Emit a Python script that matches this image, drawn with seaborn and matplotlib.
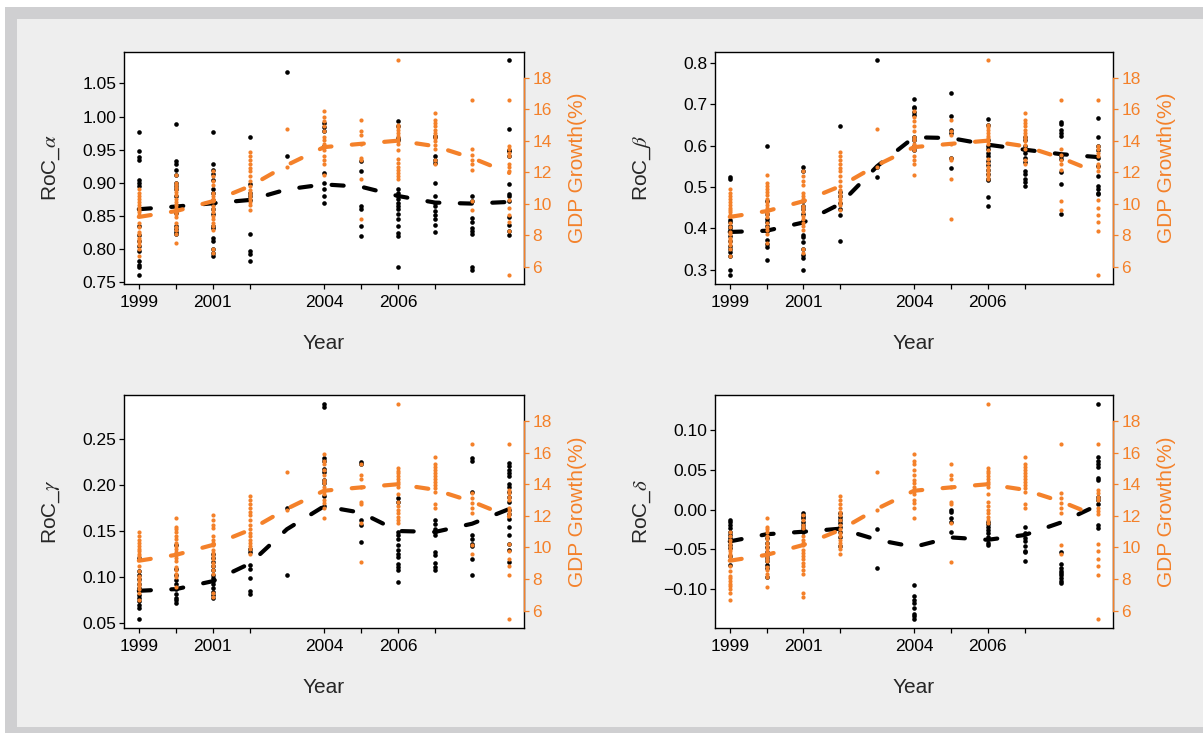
import matplotlib
matplotlib.use("Agg")
import matplotlib.pyplot as plt
from matplotlib.patches import Rectangle
import pandas as pd
import seaborn as sns

# ---------------- data ----------------
years = [1999, 2000, 2001, 2002, 2003, 2004, 2005, 2006, 2007, 2008, 2009]
x_tick_years = [1999, 2000, 2001, 2002, 2004, 2005, 2006, 2007]
x_tick_labels = ["1999", "", "2001", "", "2004", "", "2006", ""]

gdp_growth = {
    1999: [10.96, 10.7, 10.5, 10.3, 10.1, 9.9, 9.75, 9.6, 9.45, 9.3, 8.8, 8.5, 8.2, 8.05, 7.85, 7.7, 7.55, 7.4, 7.1, 6.65],
    2000: [11.85, 11.3, 11.15, 10.95, 10.75, 10.55, 10.3, 10.1, 9.9, 9.7, 9.5, 9.35, 9.15, 8.75, 8.55, 8.35, 8.1, 7.5],
    2001: [12.05, 11.75, 11.45, 11.2, 10.7, 10.5, 10.3, 10.15, 9.85, 9.65, 9.45, 9.25, 9.0, 8.8, 8.6, 8.3, 7.1, 6.85],
    2002: [13.25, 13.0, 12.75, 12.5, 12.25, 12.05, 11.75, 11.45, 11.15, 10.9, 10.7, 10.5, 10.3, 10.1, 9.9, 9.6],
    2003: [14.75, 12.35],
    2004: [15.9, 15.5, 15.25, 14.9, 14.6, 14.25, 14.05, 13.8, 13.6, 13.4, 13.0, 12.8, 12.5, 11.85],
    2005: [15.3, 14.6, 14.35, 13.8, 12.9, 12.75, 11.55, 9.05],
    2006: [19.1, 15.0, 14.85, 14.7, 14.5, 14.3, 14.15, 14.0, 13.8, 13.4, 12.85, 12.6, 12.35, 12.15, 11.95, 11.75, 11.55],
    2007: [15.75, 15.3, 15.1, 14.9, 14.7, 14.5, 14.3, 14.15, 13.95, 13.75, 13.5, 12.75, 12.5],
    2008: [16.55, 13.45, 13.1, 12.8, 12.5, 12.15, 10.15, 9.6],
    2009: [16.55, 13.65, 13.45, 13.2, 13.0, 12.5, 12.3, 12.1, 10.25, 9.75, 9.3, 8.85, 8.25, 5.45],
}
gdp_trend = [9.16, 9.53, 10.16, 11.11, 12.45, 13.59, 13.8, 14.0, 13.65, 12.9, 11.95]
gdp_ticks = [6, 8, 10, 12, 14, 16, 18]

roc_alpha = {
    1999: [0.976, 0.9475, 0.939, 0.935, 0.904, 0.90, 0.895, 0.86, 0.835, 0.821, 0.8125, 0.805, 0.7975, 0.7825, 0.775, 0.7725, 0.76],
    2000: [0.989, 0.9335, 0.9285, 0.919, 0.911, 0.90, 0.895, 0.89, 0.88, 0.865, 0.854, 0.835, 0.83, 0.826, 0.8225],
    2001: [0.977, 0.9285, 0.92, 0.9125, 0.904, 0.89, 0.885, 0.874, 0.8685, 0.86, 0.8525, 0.835, 0.8315, 0.816, 0.8125, 0.80, 0.794, 0.79],
    2002: [0.9685, 0.8975, 0.885, 0.88, 0.874, 0.8225, 0.7975, 0.7925, 0.781],
    2003: [1.068, 0.94],
    2004: [0.99, 0.984, 0.9775, 0.955, 0.914, 0.90, 0.89, 0.88, 0.87],
    2005: [0.9325, 0.9175, 0.865, 0.861, 0.834, 0.819],
    2006: [0.9935, 0.986, 0.9675, 0.964, 0.89, 0.885, 0.88, 0.875, 0.869, 0.865, 0.86, 0.8525, 0.845, 0.834, 0.8235, 0.82, 0.7725],
    2007: [0.971, 0.969, 0.94, 0.935, 0.93, 0.899, 0.88, 0.87, 0.865, 0.8575, 0.851, 0.845, 0.836, 0.826],
    2008: [0.88, 0.8725, 0.846, 0.84, 0.831, 0.8275, 0.8225, 0.7725, 0.7675],
    2009: [1.085, 0.981, 0.95, 0.9475, 0.94, 0.8975, 0.8825, 0.88, 0.8725, 0.8475, 0.836, 0.8275, 0.821],
}
alpha_trend = [0.860, 0.864, 0.869, 0.874, 0.890, 0.8975, 0.894, 0.880, 0.870, 0.8685, 0.871]
alpha_ticks = [0.75, 0.80, 0.85, 0.90, 0.95, 1.00, 1.05]

roc_beta = {
    1999: [0.523, 0.519, 0.42, 0.414, 0.406, 0.40, 0.394, 0.382, 0.37, 0.358, 0.35, 0.342, 0.334, 0.298, 0.286],
    2000: [0.599, 0.465, 0.434, 0.423, 0.414, 0.406, 0.394, 0.372, 0.362, 0.354, 0.323],
    2001: [0.547, 0.538, 0.466, 0.454, 0.446, 0.434, 0.418, 0.383, 0.38, 0.366, 0.351, 0.335, 0.327, 0.299],
    2002: [0.646, 0.487, 0.478, 0.462, 0.446, 0.432, 0.370],
    2003: [0.806, 0.548, 0.523],
    2004: [0.712, 0.694, 0.69, 0.682, 0.674, 0.62, 0.614, 0.60, 0.59],
    2005: [0.726, 0.672, 0.638, 0.63, 0.57, 0.546],
    2006: [0.663, 0.65, 0.614, 0.60, 0.591, 0.582, 0.574, 0.562, 0.554, 0.542, 0.53, 0.519, 0.516, 0.476, 0.454],
    2007: [0.62, 0.614, 0.60, 0.59, 0.582, 0.57, 0.559, 0.538, 0.53, 0.518, 0.511, 0.503],
    2008: [0.658, 0.652, 0.638, 0.63, 0.623, 0.575, 0.567, 0.536, 0.508, 0.435],
    2009: [0.666, 0.62, 0.598, 0.588, 0.57, 0.55, 0.526, 0.502, 0.494, 0.486, 0.482],
}
beta_trend = [0.391, 0.394, 0.414, 0.459, 0.550, 0.620, 0.618, 0.602, 0.590, 0.579, 0.572]
beta_ticks = [0.3, 0.4, 0.5, 0.6, 0.7, 0.8]

roc_gamma = {
    1999: [0.121, 0.1065, 0.1025, 0.098, 0.0917, 0.0873, 0.0844, 0.080, 0.0765, 0.0736, 0.069, 0.0656, 0.0536],
    2000: [0.135, 0.109, 0.102, 0.0964, 0.0917, 0.0866, 0.0808, 0.0772, 0.0746, 0.071],
    2001: [0.1254, 0.1207, 0.1163, 0.112, 0.107, 0.1025, 0.0982, 0.0953, 0.0917, 0.0873, 0.0837, 0.080, 0.0765],
    2002: [0.1308, 0.1272, 0.1127, 0.109, 0.099, 0.0844, 0.0808],
    2003: [0.175, 0.1025],
    2004: [0.289, 0.2848, 0.2293, 0.2268, 0.2178, 0.2149, 0.2062, 0.2025, 0.188, 0.1768],
    2005: [0.2257, 0.2232, 0.1616, 0.157, 0.138],
    2006: [0.1859, 0.1815, 0.1489, 0.1453, 0.1417, 0.1344, 0.129, 0.1254, 0.1217, 0.1145, 0.111, 0.107, 0.0946],
    2007: [0.1616, 0.158, 0.1525, 0.149, 0.1453, 0.1272, 0.1243, 0.1156, 0.111, 0.108],
    2008: [0.2293, 0.2268, 0.1924, 0.1453, 0.1417, 0.1362, 0.1333, 0.12, 0.1018],
    2009: [0.2243, 0.2207, 0.217, 0.2134, 0.2098, 0.2014, 0.1978, 0.1924, 0.187, 0.1815, 0.1725, 0.1688, 0.1634, 0.1543, 0.1453, 0.1362, 0.129, 0.1163],
}
gamma_trend = [0.0848, 0.0866, 0.0953, 0.1145, 0.152, 0.177, 0.170, 0.150, 0.149, 0.158, 0.174]
gamma_ticks = [0.05, 0.10, 0.15, 0.20, 0.25]

roc_delta = {
    1999: [-0.0131, -0.016, -0.0194, -0.0236, -0.0278, -0.032, -0.036, -0.040, -0.0445, -0.0486, -0.059, -0.0695],
    2000: [-0.0299, -0.036, -0.0424, -0.0466, -0.0528, -0.057, -0.0612, -0.0653, -0.0695, -0.0737, -0.0854],
    2001: [-0.0048, -0.0077, -0.011, -0.0152, -0.0194, -0.0236, -0.0278],
    2002: [-0.0048, -0.009, -0.013, -0.017, -0.0215, -0.0278, -0.035, -0.0457],
    2003: [-0.0244, -0.0737],
    2004: [-0.0954, -0.1092, -0.1134, -0.1175, -0.1238, -0.1313, -0.1342, -0.1384],
    2005: [0.0002, -0.0035, -0.0102, -0.0152, -0.0278],
    2006: [-0.015, -0.018, -0.0215, -0.0257, -0.0299, -0.034, -0.037, -0.0424, -0.0445],
    2007: [-0.0215, -0.0299, -0.036, -0.040, -0.0453, -0.0516, -0.054, -0.0653],
    2008: [-0.054, -0.0687, -0.0737, -0.077, -0.08, -0.0829, -0.0862, -0.0896, -0.0925],
    2009: [0.1338, 0.0662, 0.062, 0.0578, 0.0537, 0.0399, 0.037, 0.0161, 0.0119, 0.0077, -0.0194, -0.0236],
}
delta_trend = [-0.040, -0.031, -0.0278, -0.024, -0.038, -0.047, -0.035, -0.038, -0.032, -0.016, 0.006]
delta_ticks = [-0.10, -0.05, 0.00, 0.05, 0.10]

# ---------------- style ----------------
sns.set_style("white")
plt.rcParams["font.family"] = ["Liberation Sans", "DejaVu Sans"]
plt.rcParams["mathtext.fontset"] = "stix"

ORANGE = "#F4812A"
W, H = 1203, 733

fig = plt.figure(figsize=(W / 100, H / 100), dpi=100, facecolor="white")
fig.patches.append(Rectangle((5 / W, 0), 1 - 5 / W, 1 - 7 / H, transform=fig.transFigure,
                             facecolor="#CFCFD1", edgecolor="none", zorder=-10))
fig.patches.append(Rectangle((16.5 / W, 6 / H), 1 - 16.5 / W, 1 - 19 / H - 6 / H,
                             transform=fig.transFigure, facecolor="#EEEEEE",
                             edgecolor="none", zorder=-9))


def to_long(d):
    return pd.DataFrame([(y, v) for y, vals in d.items() for v in vals], columns=["Year", "value"])


def padded(vals, f=0.04):
    lo, hi = min(vals), max(vals)
    r = hi - lo
    return lo - f * r, hi + f * r


panels = [
    ("RoC_$\\alpha$", roc_alpha, alpha_trend, alpha_ticks, "{:.2f}", [124, 51.7, 400, 232.3]),
    ("RoC_$\\beta$", roc_beta, beta_trend, beta_ticks, "{:.1f}", [715, 51.7, 398, 232.3]),
    ("RoC_$\\gamma$", roc_gamma, gamma_trend, gamma_ticks, "{:.2f}", [124, 395, 400, 233]),
    ("RoC_$\\delta$", roc_delta, delta_trend, delta_ticks, "{:.2f}", [715, 395, 398, 233]),
]

gdp_df = to_long(gdp_growth)
dash = (0, (2.9, 4.9))

for label, data, trend, ticks, fmt, (px, py, pw, ph) in panels:
    ax = fig.add_axes([px / W, 1 - (py + ph) / H, pw / W, ph / H])
    ax.set_facecolor("white")
    df = to_long(data)
    sns.scatterplot(data=df, x="Year", y="value", ax=ax, color="black", s=11,
                    linewidth=0, zorder=2)
    sns.lineplot(x=years, y=trend, ax=ax, color="black", linewidth=3,
                 linestyle=dash, dash_capstyle="round", errorbar=None, zorder=3)

    ax2 = ax.twinx()
    sns.scatterplot(data=gdp_df, x="Year", y="value", ax=ax2, color=ORANGE, s=9,
                    linewidth=0, zorder=2)
    sns.lineplot(x=years, y=gdp_trend, ax=ax2, color=ORANGE, linewidth=3,
                 linestyle=dash, dash_capstyle="round", errorbar=None, zorder=3)

    ax.set_xlim(*padded(years))
    ax.set_ylim(*padded(df["value"].tolist()))
    ax2.set_ylim(*padded(gdp_df["value"].tolist()))

    ax.set_xticks(x_tick_years)
    ax.set_xticklabels(x_tick_labels)
    ax.set_yticks(ticks)
    ax.set_yticklabels([fmt.format(t).replace("-", "\u2212") for t in ticks])
    ax.tick_params(axis="both", direction="out", length=3.6, width=0.9, colors="black",
                   labelsize=12.5, left=True, bottom=True)
    ax.tick_params(axis="y", pad=1.8)
    ax.tick_params(axis="x", pad=4)
    for s in ax.spines.values():
        s.set_visible(True)
        s.set_color("black")
        s.set_linewidth(1.0)

    ax2.set_yticks(gdp_ticks)
    ax2.set_yticklabels([str(t) for t in gdp_ticks])
    ax2.tick_params(axis="y", direction="out", length=3.6, width=0.9, colors=ORANGE,
                    labelsize=12.5, pad=2.3, right=True)
    for side in ["left", "top", "bottom"]:
        ax2.spines[side].set_visible(False)
    ax2.spines["right"].set_color(ORANGE)
    ax2.spines["right"].set_linewidth(1.0)
    ax2.spines["right"].set_bounds(gdp_ticks[0], gdp_ticks[-1])

    ax.set_xlabel("Year", fontsize=15)
    ax.xaxis.set_label_coords(0.5, -0.254)
    ax.xaxis.label.set_va("center")
    ax.set_ylabel(label, fontsize=15)
    ax.yaxis.set_label_coords(-0.183, 0.5)
    ax.yaxis.label.set_va("center")
    ax2.set_ylabel("GDP Growth(%)", fontsize=15, color=ORANGE)
    ax2.yaxis.set_label_coords(1.134, 0.5)
    ax2.yaxis.label.set_va("center")
    ax2.set_xlabel("")

fig.savefig("out.png", dpi=100, facecolor=fig.get_facecolor())
